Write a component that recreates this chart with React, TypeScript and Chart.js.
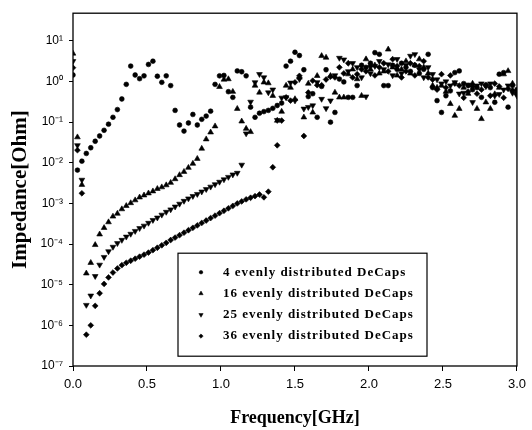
import React, { useEffect, useRef } from 'react';
import { Chart, registerables } from 'chart.js';
import { drawPoint } from 'chart.js/helpers';

Chart.register(...registerables);

// Frequency samples in GHz
const freqGHz = [
  0, 0.03, 0.06, 0.09, 0.12, 0.15, 0.18, 0.21, 0.24, 0.27,
  0.30, 0.33, 0.36, 0.39, 0.42, 0.45, 0.48, 0.51, 0.54, 0.57,
  0.60, 0.63, 0.66, 0.69, 0.72, 0.75, 0.78, 0.81, 0.84, 0.87,
  0.90, 0.93, 0.96, 0.99, 1.02, 1.05, 1.08, 1.11, 1.14, 1.17,
  1.20, 1.23, 1.26, 1.29, 1.32, 1.35, 1.38, 1.41, 1.44, 1.47,
  1.50, 1.53, 1.56, 1.59, 1.62, 1.65, 1.68, 1.71, 1.74, 1.77,
  1.80, 1.83, 1.86, 1.89, 1.92, 1.95, 1.98, 2.01, 2.04, 2.07,
  2.10, 2.13, 2.16, 2.19, 2.22, 2.25, 2.28, 2.31, 2.34, 2.37,
  2.40, 2.43, 2.46, 2.49, 2.52, 2.55, 2.58, 2.61, 2.64, 2.67,
  2.70, 2.73, 2.76, 2.79, 2.82, 2.85, 2.88, 2.91, 2.94, 2.97, 3.00,
];

// Impedance, as decade exponents: |Z| = 10^value Ohm
const decaps4Exp = [
  0.16, -2.18, -1.96, -1.77, -1.63, -1.47, -1.34, -1.20, -1.05, -0.88,
  -0.69, -0.43, -0.07, 0.38, 0.16, 0.07, 0.14, 0.42, 0.50, 0.13,
  -0.02, 0.14, -0.10, -0.71, -1.07, -1.22, -1.02, -0.81, -1.07, -0.93,
  -0.85, -0.73, -0.07, 0.14, 0.15, -0.25, -0.39, 0.26, 0.24, 0.14,
  -0.63, -0.88, -0.78, -0.74, -0.71, -0.66, -0.59, -0.53, 0.38, 0.50,
  0.72, 0.64, 0.29, -0.37, -0.30, -0.88, -0.12, 0.29, -1.00, -0.76,
  0.06, -0.01, -0.39, -0.39, -0.10, 0.40, 0.35, 0.45, 0.71, 0.67,
  -0.10, -0.10, 0.40, 0.30, 0.45, 0.35, 0.25, 0.40, 0.20, 0.30,
  0.67, -0.15, -0.47, -0.76, -0.35, -0.23, 0.22, 0.26, -0.05, -0.10,
  -0.20, -0.15, -0.39, -0.10, -0.15, -0.51, 0.18, 0.22, -0.63, -0.10, -0.20,
];

const decaps16Exp = [
  0.69, -1.37, -2.54, -4.72, -4.46, -4.02, -3.76, -3.60, -3.46, -3.32,
  -3.25, -3.14, -3.06, -2.99, -2.92, -2.85, -2.80, -2.75, -2.70, -2.64,
  -2.60, -2.55, -2.49, -2.40, -2.30, -2.22, -2.12, -2.02, -1.90, -1.65,
  -1.42, -1.25, -1.10, -0.13, 0.05, 0.06, -0.25, -0.67, -0.98, -1.16,
  -1.24, -0.10, -0.27, -0.02, -0.04, -0.35, -0.96, -0.74, -0.10, -0.15,
  -0.43, 0.10, -0.88, -0.05, -0.76, 0.14, 0.63, 0.59, 0.14, -0.27,
  -0.39, -0.39, 0.18, 0.30, 0.06, -0.35, 0.55, 0.30, 0.40, 0.20,
  0.25, 0.79, 0.35, 0.15, 0.30, 0.50, 0.20, 0.40, 0.55, 0.35,
  0.20, -0.10, -0.15, -0.10, -0.25, -0.55, -0.84, -0.67, -0.15, -0.30,
  -0.05, -0.67, -0.92, -0.51, -0.67, -0.31, -0.15, 0.18, 0.26, -0.05, -0.25,
];

const decaps25Exp = [
  0.50, -1.57, -2.42, -5.50, -5.27, -4.79, -4.51, -4.32, -4.18, -4.07,
  -3.98, -3.90, -3.82, -3.75, -3.68, -3.61, -3.55, -3.48, -3.41, -3.35,
  -3.28, -3.21, -3.15, -3.08, -3.01, -2.94, -2.88, -2.82, -2.77, -2.71,
  -2.65, -2.59, -2.53, -2.47, -2.41, -2.35, -2.29, -2.25, -2.05, -1.28,
  -0.50, -0.02, 0.18, 0.10, -0.27, -0.20, -0.95, -0.40, -0.39, -0.03,
  -0.47, 0.06, -0.67, -0.63, -0.59, -0.02, -0.43, -0.66, -0.47, 0.15,
  0.58, 0.54, 0.25, 0.45, 0.35, 0.10, -0.37, 0.20, 0.38, 0.50,
  0.30, 0.42, 0.15, 0.55, 0.20, 0.40, 0.63, 0.67, 0.30, 0.10,
  0.35, 0.18, 0.05, -0.05, 0.00, -0.10, -0.02, -0.30, -0.28, -0.08,
  -0.51, -0.10, -0.05, -0.12, -0.05, -0.35, -0.31, -0.20, -0.10, -0.28, -0.35,
];

const decaps36Exp = [
  0.34, -1.69, -2.75, -6.23, -6.00, -5.52, -5.21, -4.98, -4.82, -4.70,
  -4.60, -4.52, -4.46, -4.41, -4.36, -4.31, -4.26, -4.21, -4.15, -4.09,
  -4.03, -3.97, -3.90, -3.84, -3.78, -3.72, -3.66, -3.60, -3.54, -3.48,
  -3.42, -3.36, -3.30, -3.24, -3.18, -3.12, -3.06, -3.00, -2.95, -2.90,
  -2.86, -2.82, -2.78, -2.85, -2.71, -2.11, -1.57, -0.96, -0.39, -0.47,
  -0.02, 0.14, -1.34, -0.27, 0.02, -0.09, -0.09, 0.05, 0.12, 0.10,
  0.35, 0.20, 0.45, 0.10, 0.18, 0.30, 0.25, 0.38, 0.15, 0.35,
  0.45, 0.25, 0.55, 0.38, 0.10, 0.25, 0.45, 0.15, 0.38, 0.50,
  0.10, 0.05, -0.20, 0.18, -0.15, 0.15, -0.05, -0.10, -0.40, -0.25,
  -0.12, -0.30, -0.20, -0.08, -0.35, -0.05, -0.12, -0.40, -0.18, -0.22, -0.30,
];

const seriesNames = [
  '4 evenly distributed DeCaps',
  '16 evenly distributed DeCaps',
  '25 evenly distributed DeCaps',
  '36 evenly distributed DeCaps',
];
const seriesExps = [decaps4Exp, decaps16Exp, decaps25Exp, decaps36Exp];

const yTickExponents = [-7, -6, -5, -4, -3, -2, -1, 0, 1];
const xTickValues = [0, 0.5, 1.0, 1.5, 2.0, 2.5, 3.0];

const markerStyles = [
  { pointStyle: 'circle', rotation: 0, radius: 2.4 },
  { pointStyle: 'triangle', rotation: 0, radius: 3.3 },
  { pointStyle: 'triangle', rotation: 180, radius: 3.3 },
  { pointStyle: 'rectRot', rotation: 0, radius: 2.9 },
];

const SUP: Record<string, string> = {
  '-': '\u207B', '0': '\u2070', '1': '\u00B9', '2': '\u00B2', '3': '\u00B3',
  '4': '\u2074', '5': '\u2075', '6': '\u2076', '7': '\u2077', '8': '\u2078', '9': '\u2079',
};
const powerLabel = (e: number) => '10' + String(e).split('').map((c) => SUP[c]).join('');

const framePlugin = {
  id: 'frameBox',
  afterDraw(chart: any) {
    const { ctx, chartArea } = chart;
    ctx.save();
    ctx.strokeStyle = '#000';
    ctx.lineWidth = 1.3;
    ctx.strokeRect(chartArea.left, chartArea.top, chartArea.right - chartArea.left, chartArea.bottom - chartArea.top);
    ctx.restore();
  },
};

const legendPlugin = {
  id: 'boxLegend',
  afterDraw(chart: any) {
    const { ctx, chartArea } = chart;
    const left = chartArea.left + 105;
    const top = chartArea.top + 240;
    const w = 249;
    const h = 103;
    ctx.save();
    ctx.fillStyle = '#fff';
    ctx.fillRect(left, top, w, h);
    ctx.strokeStyle = '#000';
    ctx.lineWidth = 1.2;
    ctx.strokeRect(left, top, w, h);
    ctx.font = 'bold 13px "Liberation Serif"';
    (ctx as any).letterSpacing = '1px';
    ctx.textBaseline = 'middle';
    ctx.textAlign = 'left';
    chart.data.datasets.forEach((ds: any, i: number) => {
      const y = top + 19 + i * 21.3;
      const st = markerStyles[i];
      ctx.fillStyle = '#000';
      ctx.strokeStyle = '#000';
      ctx.lineWidth = 0.5;
      drawPoint(ctx, { pointStyle: st.pointStyle as any, rotation: st.rotation, radius: st.radius * 0.75, borderWidth: 0.5 }, left + 23, y);
      ctx.fillStyle = '#000';
      ctx.fillText(ds.label, left + 45, y);
    });
    ctx.restore();
  },
};

export default function App() {
  const canvasRef = useRef<HTMLCanvasElement | null>(null);

  useEffect(() => {
    document.body.style.margin = '0';
    const canvas = canvasRef.current;
    if (!canvas) return;

    const datasets = seriesNames.map((name, i) => ({
      label: name,
      data: freqGHz.map((f, j) => ({ x: f, y: Math.pow(10, seriesExps[i][j]) })),
      pointStyle: markerStyles[i].pointStyle,
      rotation: markerStyles[i].rotation,
      pointRadius: markerStyles[i].radius,
      pointHoverRadius: markerStyles[i].radius,
      backgroundColor: '#000',
      borderColor: '#000',
      pointBorderWidth: 0.6,
      showLine: false,
    }));

    const chart = new Chart(canvas, {
      type: 'scatter',
      data: { datasets: datasets as any },
      plugins: [framePlugin, legendPlugin],
      options: {
        animation: false,
        responsive: false,
        events: [],
        layout: { padding: { left: 0, top: 10, right: 15, bottom: 0 } },
        plugins: {
          legend: { display: false },
          tooltip: { enabled: false },
        },
        scales: {
          x: {
            type: 'linear',
            min: 0,
            max: 3,
            afterBuildTicks: (scale: any) => {
              scale.ticks = xTickValues.map((v) => ({ value: v }));
            },
            afterFit: (scale: any) => {
              scale.height = 64;
            },
            grid: { display: true, drawOnChartArea: false, drawTicks: true, tickLength: 5, color: '#000', lineWidth: 1 },
            border: { display: false },
            ticks: {
              color: '#000',
              padding: 6,
              font: { family: 'Liberation Sans', size: 13 },
              callback: (v: any) => Number(v).toFixed(1),
            },
            title: {
              display: true,
              text: 'Frequency[GHz]',
              color: '#000',
              font: { family: 'Liberation Serif', size: 18, weight: 'bold' },
              padding: { top: 0, bottom: 1 },
            },
          },
          y: {
            type: 'logarithmic',
            min: 1e-7,
            max: 48,
            afterBuildTicks: (scale: any) => {
              scale.ticks = yTickExponents.map((e) => ({ value: Math.pow(10, e) }));
            },
            afterFit: (scale: any) => {
              scale.width = 73;
            },
            grid: { display: true, drawOnChartArea: false, drawTicks: true, tickLength: 4, color: '#000', lineWidth: 1 },
            border: { display: false },
            ticks: {
              color: '#000',
              padding: 6,
              font: { family: 'Liberation Sans', size: 12 },
              callback: (v: any) => powerLabel(Math.round(Math.log10(Number(v)))),
            },
            title: {
              display: true,
              text: 'Impedance[Ohm]',
              color: '#000',
              font: { family: 'Liberation Serif', size: 21, weight: 'bold' },
              padding: { top: 8, bottom: 0 },
            },
          },
        },
      },
    });

    return () => chart.destroy();
  }, []);

  return (
    <div style={{ width: 532, height: 430, position: 'relative', background: '#fff' }}>
      <canvas ref={canvasRef} width={532} height={430} style={{ display: 'block' }} />
    </div>
  );
}
